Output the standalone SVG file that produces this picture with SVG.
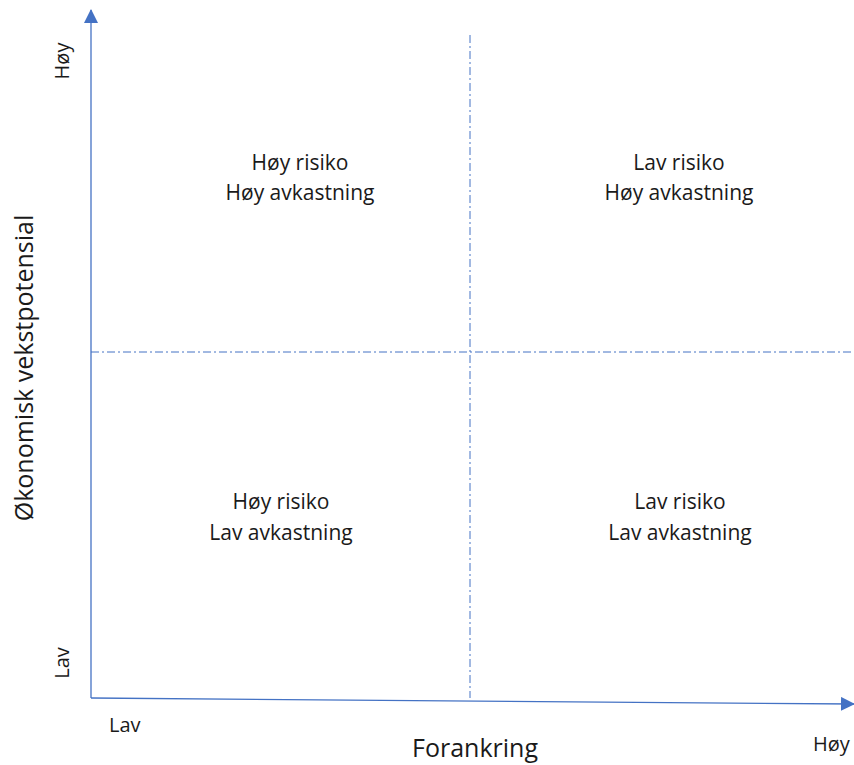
<svg xmlns="http://www.w3.org/2000/svg" width="854" height="765" viewBox="0 0 854 765">
<style>
text{font-family:"Open Sans","Noto Sans",sans-serif;fill:#1a1a1a}
.q{font-size:21px;text-anchor:middle}
.ax{font-size:20px}
.t{font-size:25px;text-anchor:middle}
.axis{stroke:#4472c4;stroke-width:1.3;fill:none}
.dash{stroke:#4472c4;stroke-width:1;stroke-dasharray:8 3 2 3;fill:none}
</style>
<defs>
<marker id="arrU" markerWidth="14" markerHeight="14" refX="13" refY="7" orient="auto" markerUnits="userSpaceOnUse" viewBox="0 0 14 14">
<path d="M0,0 L14,7 L0,14 z" fill="#4472c4"/>
</marker>
</defs>
<g id="connectors">
<line class="dash" x1="470" y1="35" x2="470" y2="698"/>
<line class="dash" x1="91" y1="352" x2="854" y2="352"/>
<line class="axis" x1="91" y1="698" x2="91" y2="10" marker-end="url(#arrU)"/>
<line class="axis" x1="91" y1="698" x2="854" y2="704" marker-end="url(#arrU)"/>
</g>
<g id="q1"><text class="q" x="300" y="170">Høy risiko</text><text class="q" x="300" y="200">Høy avkastning</text></g>
<g id="q2"><text class="q" x="679" y="170">Lav risiko</text><text class="q" x="679" y="200">Høy avkastning</text></g>
<g id="q3"><text class="q" x="281" y="509">Høy risiko</text><text class="q" x="281" y="540">Lav avkastning</text></g>
<g id="q4"><text class="q" x="680" y="509">Lav risiko</text><text class="q" x="680" y="540">Lav avkastning</text></g>
<g id="labels">
<text class="ax" transform="translate(69,61) rotate(-90)" text-anchor="middle">Høy</text>
<text class="ax" transform="translate(69,663) rotate(-90)" text-anchor="middle">Lav</text>
<text class="ax" x="109" y="732">Lav</text>
<text class="ax" x="813" y="751">Høy</text>
<text class="t" x="475" y="757">Forankring</text>
<text class="t" transform="translate(33,368) rotate(-90)">Økonomisk vekstpotensial</text>
</g>
</svg>
